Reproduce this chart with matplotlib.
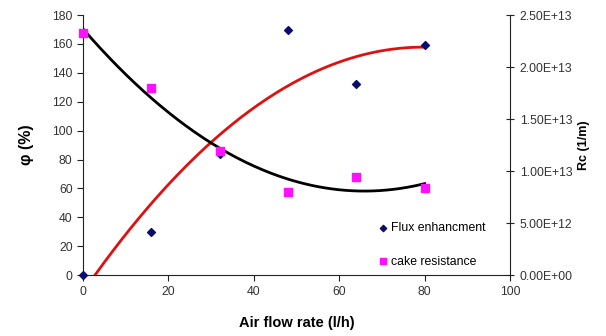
import numpy as np
import matplotlib
matplotlib.use("Agg")
import matplotlib.pyplot as plt
from matplotlib.ticker import FuncFormatter

plt.rcParams['font.family'] = ['Liberation Sans', 'DejaVu Sans']

# data
air_flow = [0, 16, 32, 48, 64, 80]
flux_enh = [0, 30, 84, 170, 132, 159]                              # phi (%)
cake_res = [2.33e13, 1.80e13, 1.19e13, 8.0e12, 9.4e12, 8.4e12]   # Rc (1/m)

fig = plt.figure(figsize=(6.06, 3.36), dpi=100)
ax = fig.add_axes([0.137, 0.1815, 0.7046, 0.7735])
ax2 = ax.twinx()

# polynomial trend lines (order 2), like the spreadsheet
xs = np.linspace(0, 80, 200)
flux_fit = np.polyval(np.polyfit(air_flow, flux_enh, 2), xs)
cake_fit = np.polyval(np.polyfit(air_flow, cake_res, 2), xs)

ax.plot(xs, flux_fit, color='#e01010', lw=2, zorder=2)
ax2.plot(xs, cake_fit, color='black', lw=2, zorder=2)

ax.scatter(air_flow, flux_enh, marker='D', s=16, color='#0c0c6e', zorder=5, clip_on=False,
           label='Flux enhancment')
ax2.scatter(air_flow, cake_res, marker='s', s=26, color='#ff10ff', zorder=5, clip_on=False,
            label='cake resistance')

ax.set_xlim(0, 100)
ax.set_ylim(0, 180)
ax2.set_ylim(0, 2.5e13)
ax.set_xticks(range(0, 101, 20))
ax.set_yticks(range(0, 181, 20))
ax2.set_yticks(np.arange(0, 2.51e13, 5e12))
ax2.yaxis.set_major_formatter(FuncFormatter(lambda v, p: f"{v:.2E}"))

for a in (ax, ax2):
    a.spines['top'].set_visible(False)
    for s in a.spines.values():
        s.set_linewidth(0.8)
        s.set_color('#222222')
ax.spines['right'].set_visible(False)
ax2.spines['left'].set_visible(False)
ax2.spines['bottom'].set_visible(False)

ax.tick_params(axis='both', labelsize=8.8, colors='#222222', labelcolor='#333333', length=4, width=0.8)
ax.tick_params(axis='x', pad=4)
ax2.tick_params(axis='y', labelsize=8.8, colors='#222222', labelcolor='#333333', direction='inout',
                length=6, width=0.8, pad=4)

ax.set_xlabel('Air flow rate (l/h)', fontsize=10.5, fontweight='bold', labelpad=13)
ax.set_ylabel('φ (%)', fontsize=11.5, fontweight='bold', labelpad=13)
ax2.set_ylabel('Rc (1/m)', fontsize=9, fontweight='bold', labelpad=4)

h1, l1 = ax.get_legend_handles_labels()
h2, l2 = ax2.get_legend_handles_labels()
ax2.legend(h1 + h2, l1 + l2, loc='lower left', bbox_to_anchor=(0.675, 0.0), frameon=False,
           fontsize=8.8, handlelength=0.8, handletextpad=0.2, labelspacing=1.75, markerscale=0.8,
           borderaxespad=0.2)

fig.savefig('out.png', dpi=100)
